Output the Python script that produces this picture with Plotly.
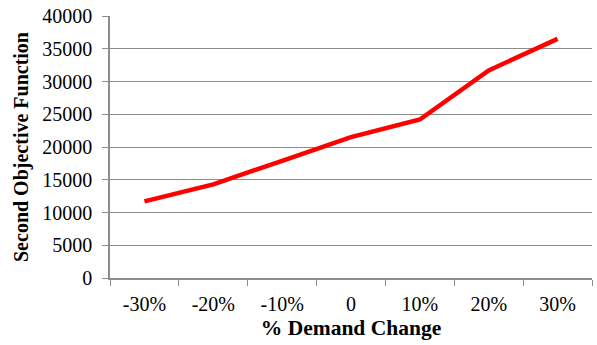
import plotly.graph_objects as go

demand_change = ["-30%", "-20%", "-10%", "0", "10%", "20%", "30%"]
second_objective = [11700, 14300, 17900, 21500, 24200, 31700, 36500]

grid_color = "#8c8c8c"
serif = "Liberation Serif"

fig = go.Figure(
    go.Scatter(
        x=demand_change,
        y=second_objective,
        mode="lines",
        line=dict(color="#ff0000", width=4.5),
        hoverinfo="x+y",
    )
)

fig.update_layout(
    width=597,
    height=345,
    margin=dict(l=110, r=5, t=16, b=67),
    paper_bgcolor="white",
    plot_bgcolor="white",
    showlegend=False,
    font=dict(family=serif, size=20, color="black"),
)

fig.update_xaxes(
    type="category",
    range=[-0.5, len(demand_change) - 0.5],
    tickson="boundaries",
    ticks="outside",
    ticklen=6,
    tickcolor=grid_color,
    showline=True,
    linecolor=grid_color,
    linewidth=1.5,
    showgrid=False,
    tickfont=dict(family=serif, size=20, color="black"),
    ticklabelstandoff=7,
    title=dict(text="<b>% Demand Change</b>",
               font=dict(family=serif, size=21.5, color="black"), standoff=6),
)

fig.update_yaxes(
    range=[0, 40000],
    dtick=5000,
    ticks="outside",
    ticklen=6,
    tickcolor=grid_color,
    showline=True,
    linecolor=grid_color,
    linewidth=1.5,
    showgrid=True,
    gridcolor=grid_color,
    gridwidth=1.2,
    zeroline=False,
    tickformat="d",
    tickfont=dict(family=serif, size=20, color="black"),
    ticklabelstandoff=6,
    title=dict(text="<b>Second Objective Function</b>",
               font=dict(family=serif, size=20, color="black"), standoff=8),
)

fig.write_html("out.html")
